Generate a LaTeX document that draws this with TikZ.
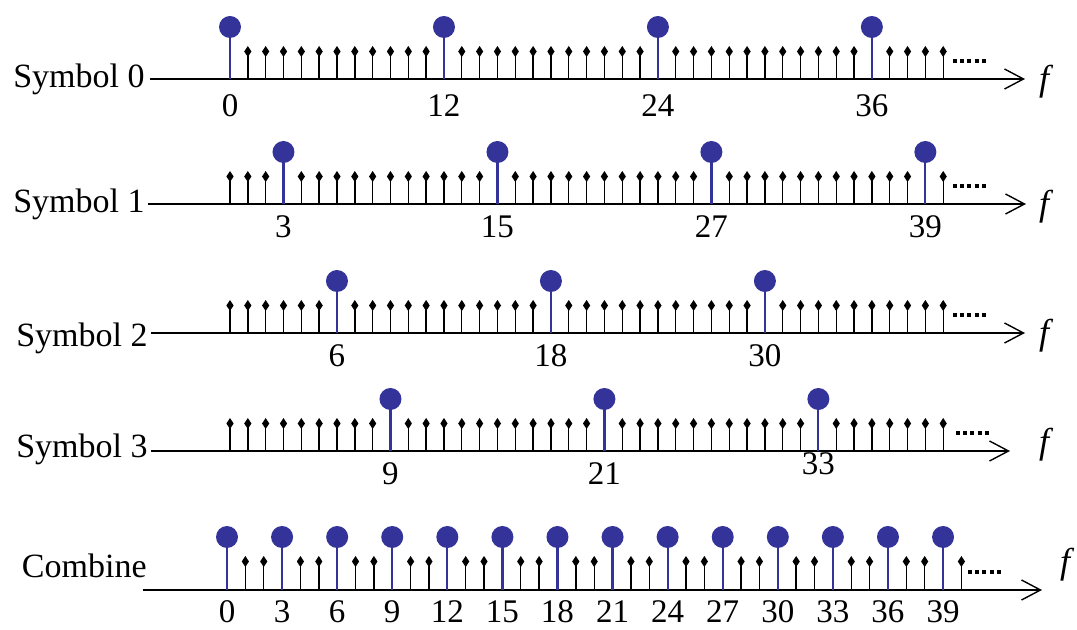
\documentclass[tikz,border=0pt]{standalone}
\usepackage{fontspec}
\setmainfont{Liberation Serif}
\usetikzlibrary{arrows.meta, positioning}
\definecolor{pilotblue}{RGB}{51,51,153}

\begin{document}
\begin{tikzpicture}[
  x=0.5pt, y=-0.5pt,
  axis/.style   = {line width=0.7pt,
                   -{Straight Barb[length=9.5pt, width=10pt, line width=0.7pt]}},
  sub/.style    = {line width=0.7pt, draw=black},
  pilot/.style  = {line width=1.1pt, draw=pilotblue},
  dots/.style   = {line width=2pt, dash pattern=on 2pt off 1.6pt},
  rowlab/.style = {anchor=base east, inner sep=0pt, font=\fontsize{17}{20}\selectfont},
  num/.style    = {inner sep=0pt, font=\fontsize{16.5}{18}\selectfont},
  freq/.style   = {inner sep=0pt, font=\fontsize{18}{20}\selectfont\itshape}
]
  \useasboundingbox (0,0) rectangle (1077,630);

  % symbols 0--3: a pilot every 12 subcarriers, shifted by 3 per symbol
  \foreach \r/\ay/\lx/\lb/\as/\ae/\dx/\fy/\ny in
      {0/79/145/88/150/1025/953/82/27,
       1/204/145/213/148/1026/953/207/23,
       2/333/148/347/151/1025/953/336/23,
       3/451/148/458/151/1010/956/445/23} {
    \pgfmathtruncatemacro\off{3*\r}
    \node[rowlab] (sym\r) at (\lx,\lb) {Symbol \r};
    \coordinate (ax\r s) at (\as,\ay);
    \coordinate (ax\r e) at (\ae,\ay);
    \draw[axis] (ax\r s) -- (ax\r e);
    \node[freq] (f\r) at (1044,\fy) {f};
    \foreach \k in {0,...,40} {
      \pgfmathtruncatemacro\m{mod(\k+12-\off,12)}
      \ifnum\m=0
        \draw[pilot] ({230+\k*17.83},\ay) -- ++(0,-52);
        \fill[pilotblue] ({230+\k*17.83},{\ay-52}) circle[radius=5.5pt];
      \else
        \draw[sub] ({230+\k*17.83},\ay) -- ++(0,-27);
        \fill ({230+\k*17.83},{\ay-33}) -- ++(3.6,5.5) -- ++(-3.6,5.5) -- ++(-3.6,-5.5) -- cycle;
      \fi
    }
    \draw[dots] (\dx,{\ay-18}) -- ++(33,0);
    \foreach \j in {0,...,3} {
      \pgfmathtruncatemacro\k{\off+12*\j}
      \pgfmathsetmacro\nyy{\k==33 ? 13 : \ny}
      \ifnum\k<41
        \node[num] (n\r-\k) at ({230+\k*17.83},{\ay+\nyy}) {\k};
      \fi
    }
  }

  % combined spectrum: a pilot every 3 subcarriers
  \node[rowlab] (comb) at (147,578) {Combine};
  \coordinate (axcs) at (143,590);
  \coordinate (axce) at (1042,590);
  \draw[axis] (axcs) -- (axce);
  \node[freq] (fc) at (1065,565) {f};
  \foreach \k in {0,...,40} {
    \pgfmathtruncatemacro\m{mod(\k,3)}
    \ifnum\m=0
      \draw[pilot] ({227+\k*18.36},590) -- ++(0,-53);
      \fill[pilotblue] ({227+\k*18.36},537) circle[radius=5.5pt];
    \else
      \draw[sub] ({227+\k*18.36},590) -- ++(0,-28);
      \fill ({227+\k*18.36},556) -- ++(3.6,5.5) -- ++(-3.6,5.5) -- ++(-3.6,-5.5) -- cycle;
    \fi
  }
  \draw[dots] (968,572) -- ++(34,0);
  \foreach \k in {0,3,...,39}
    \node[num] (nc-\k) at ({227+\k*18.36},612) {\k};
\end{tikzpicture}
\end{document}
